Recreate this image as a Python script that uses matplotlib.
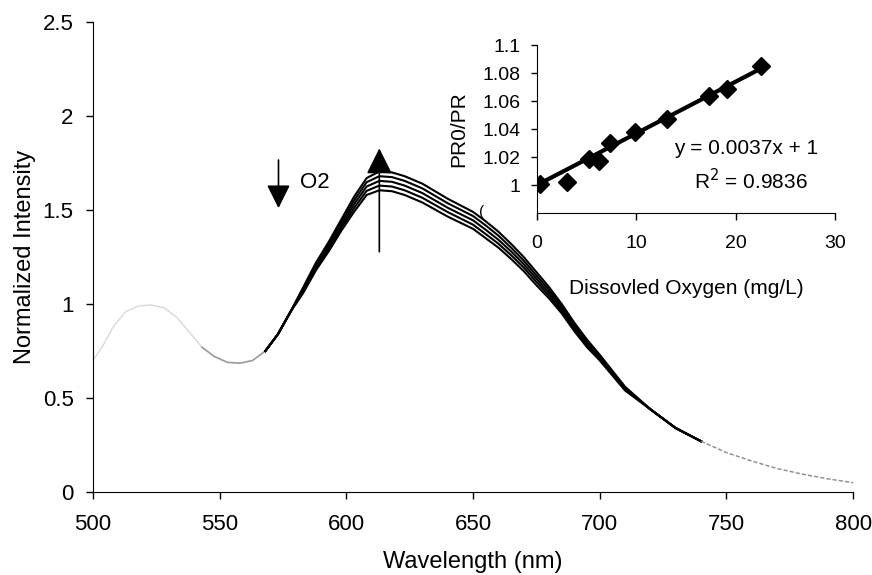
import numpy as np
import matplotlib.pyplot as plt

plt.rcParams['font.family'] = ['Liberation Sans', 'DejaVu Sans']

# emission spectra, shared left part (faint in the scan)
wl_left = [500, 504, 508, 513, 518, 523, 528, 533, 538, 543, 548, 553, 558, 563, 568, 573, 578]
int_left = [0.70, 0.78, 0.88, 0.96, 0.99, 0.995, 0.98, 0.93, 0.85, 0.77, 0.72, 0.69, 0.685, 0.70, 0.75, 0.84, 0.96]

# peak region, one list per oxygen level
wl_mid = [583, 588, 593, 598, 603, 608, 613, 618, 623, 630, 640, 650,
          655, 660, 665, 670, 675, 680, 685, 690, 695, 700, 710]
int_o2_1 = [1.09, 1.22, 1.33, 1.45, 1.57, 1.67, 1.705, 1.70, 1.68, 1.64, 1.56, 1.49,
            1.44, 1.385, 1.32, 1.25, 1.17, 1.09, 1.00, 0.90, 0.81, 0.73, 0.56]
int_o2_2 = [1.082, 1.21, 1.318, 1.435, 1.55, 1.648, 1.68, 1.675, 1.655, 1.615, 1.536, 1.468,
            1.418, 1.364, 1.30, 1.231, 1.152, 1.075, 0.988, 0.889, 0.80, 0.722, 0.555]
int_o2_3 = [1.075, 1.20, 1.305, 1.42, 1.53, 1.625, 1.655, 1.65, 1.63, 1.59, 1.512, 1.445,
            1.395, 1.342, 1.28, 1.212, 1.135, 1.06, 0.975, 0.878, 0.79, 0.715, 0.55]
int_o2_4 = [1.068, 1.19, 1.292, 1.405, 1.51, 1.602, 1.63, 1.625, 1.605, 1.565, 1.489, 1.422,
            1.372, 1.321, 1.26, 1.194, 1.118, 1.045, 0.962, 0.866, 0.78, 0.708, 0.545]
int_o2_5 = [1.06, 1.18, 1.28, 1.39, 1.49, 1.58, 1.605, 1.60, 1.58, 1.54, 1.465, 1.40,
            1.35, 1.30, 1.24, 1.175, 1.10, 1.03, 0.95, 0.855, 0.77, 0.70, 0.54]

# shared tail
wl_right = [720, 730, 740, 750, 760, 770, 780, 790, 800]
int_right = [0.44, 0.34, 0.27, 0.21, 0.165, 0.125, 0.095, 0.07, 0.05]

# inset: Stern-Volmer plot
do_mgl = [0.3, 3.0, 5.2, 6.2, 7.4, 9.9, 13.1, 17.3, 19.1, 22.6]
pr_ratio = [1.001, 1.002, 1.019, 1.017, 1.030, 1.038, 1.047, 1.064, 1.069, 1.085]
fit_slope = 0.0037
fit_intercept = 1.0

fig = plt.figure(figsize=(8.72, 5.75), dpi=100)
ax = fig.add_axes([0.1067, 0.1443, 0.8716, 0.8174])

wl_l = np.array(wl_left)
in_l = np.array(int_left)
faint = wl_l <= 543
ax.plot(wl_l[faint], in_l[faint], color='#d8d8d8', lw=1.0)
grey = (wl_l >= 543) & (wl_l <= 568)
ax.plot(wl_l[grey], in_l[grey], color='#9a9a9a', lw=1.2)

start = wl_l >= 568
wl_r = np.array(wl_right)
in_r = np.array(int_right)
tail = wl_r <= 740
for curve in [int_o2_1, int_o2_2, int_o2_3, int_o2_4, int_o2_5]:
    x = np.concatenate([wl_l[start], wl_mid, wl_r[tail]])
    y = np.concatenate([in_l[start], curve, in_r[tail]])
    ax.plot(x, y, color='black', lw=1.5)
ax.plot(wl_r[wl_r >= 740], in_r[wl_r >= 740], color='#8a8a8a', lw=1.0, ls=(0, (3, 1.5)))

ax.set_xlim(500, 800)
ax.set_ylim(0, 2.5)
ax.set_xticks([500, 550, 600, 650, 700, 750, 800])
ax.set_yticks([0, 0.5, 1, 1.5, 2, 2.5])
ax.set_yticklabels(['0', '0.5', '1', '1.5', '2', '2.5'])
ax.spines['top'].set_visible(False)
ax.spines['right'].set_visible(False)
ax.tick_params(axis='both', direction='out', length=5, width=1, labelsize=16)
ax.tick_params(axis='x', pad=11)
ax.tick_params(axis='y', pad=9)
ax.set_xlabel('Wavelength (nm)', fontsize=17, labelpad=11)
ax.set_ylabel('Normalized Intensity', fontsize=17, labelpad=5)

# arrows and labels
ax.annotate('', xy=(573.2, 1.51), xytext=(573.2, 1.766),
            arrowprops=dict(arrowstyle='-|>,head_length=0.72,head_width=0.36',
                            mutation_scale=20, color='black', lw=1.2,
                            shrinkA=0, shrinkB=0))
ax.text(581.5, 1.644, 'O2', fontsize=16, ha='left', va='center')
ax.annotate('', xy=(613.0, 1.828), xytext=(613.0, 1.278),
            arrowprops=dict(arrowstyle='-|>,head_length=0.8,head_width=0.4',
                            mutation_scale=20, color='black', lw=1.2,
                            shrinkA=0, shrinkB=0))
ax.text(653.4, 1.49, '(', fontsize=11, ha='center', va='center')

# inset
ins = fig.add_axes([0.6158, 0.6296, 0.3417, 0.2915])
ins.set_facecolor('none')
ins.plot(do_mgl, pr_ratio, linestyle='none', marker='D', ms=9, color='black')
fx = np.array([0, max(do_mgl)])
ins.plot(fx, fit_slope * fx + fit_intercept, color='black', lw=3)
ins.set_xlim(0, 30)
ins.set_ylim(0.98, 1.1)
ins.set_xticks([0, 10, 20, 30])
ins.set_yticks([1.0, 1.02, 1.04, 1.06, 1.08, 1.1])
ins.set_yticklabels(['1', '1.02', '1.04', '1.06', '1.08', '1.1'])
ins.spines['top'].set_visible(False)
ins.spines['right'].set_visible(False)
ins.tick_params(axis='both', direction='out', width=1, labelsize=14)
ins.tick_params(axis='x', length=5, pad=11)
ins.tick_params(axis='y', length=4, pad=8)
ins.set_xlabel('Dissovled Oxygen (mg/L)', fontsize=15, labelpad=19)
ins.set_ylabel('PR0/PR', fontsize=15, labelpad=10)
ins.text(21.1, 1.0262, 'y = 0.0037x + 1', fontsize=15, ha='center', va='center')
ins.text(21.5, 1.0035, 'R$^2$ = 0.9836', fontsize=15, ha='center', va='center')

fig.savefig('out.png', dpi=100)
